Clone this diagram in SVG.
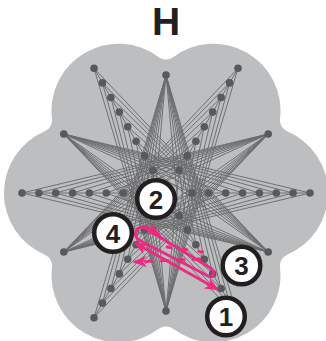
<svg xmlns="http://www.w3.org/2000/svg" width="326" height="341" viewBox="0 0 326 341">
<style>
.bg{fill:#bcbec0}
.e{fill:none;stroke:#6a6b6e;stroke-width:0.95;stroke-linejoin:round}
.n{fill:#58595b}
.lbl circle{fill:#fff;stroke:#231f20;stroke-width:4.5}
.lbl text,.title{font-family:"Liberation Sans",Arial,sans-serif;font-weight:bold;fill:#231f20;text-anchor:middle}
.lbl text{font-size:26px}
.pk{fill:none;stroke:#ec2a82;stroke-width:2.8;stroke-linecap:round;stroke-linejoin:round}
</style>
<defs>
<marker id="ah" viewBox="0 0 12 10" refX="10" refY="5" markerWidth="5" markerHeight="4.2" orient="auto-start-reverse" markerUnits="strokeWidth">
<path d="M0,0 L12,5 L0,10 L3.5,5 z" fill="#ec2a82"/>
</marker>
</defs>
<text class="title" x="166" y="35" font-size="39">H</text>
<path class="bg" d="M158.8,57.2 A12,12 0 0 0 173.2,57.2 A67,67 0 0 1 280,118.8 A12,12 0 0 0 287.2,131.3 A67,67 0 0 1 287.2,254.7 A12,12 0 0 0 280,267.2 A67,67 0 0 1 173.2,328.8 A12,12 0 0 0 158.8,328.8 A67,67 0 0 1 52,267.2 A12,12 0 0 0 44.8,254.7 A67,67 0 0 1 44.8,131.3 A12,12 0 0 0 52,118.8 A67,67 0 0 1 158.8,57.2 Z"/>
<g id="connectors">
<path class="e" d="M140,193 L22,193 M192,193 L310,193 M179,170.5 L238,68.3 M153,170.5 L94,68.3 M153,215.5 L94,317.7 M179,215.5 L238,317.7"/>
<path class="e" d="M153,215.5 L166,75 L144.6,230.1 M136.1,244.7 L166,75 L127.7,259.3 M119.3,273.9 L166,75 L110.9,288.5 M102.4,303.1 L166,75 L94,317.7 M179,215.5 L166,75 L187.4,230.1 M195.9,244.7 L166,75 L204.3,259.3 M212.7,273.9 L166,75 L221.1,288.5 M229.6,303.1 L166,75 L238,317.7"/>
<path class="e" d="M179,170.5 L166,311 L187.4,155.9 M195.9,141.3 L166,311 L204.3,126.7 M212.7,112.1 L166,311 L221.1,97.5 M229.6,82.9 L166,311 L238,68.3 M153,170.5 L166,311 L144.6,155.9 M136.1,141.3 L166,311 L127.7,126.7 M119.3,112.1 L166,311 L110.9,97.5 M102.4,82.9 L166,311 L94,68.3"/>
<path class="e" d="M179,215.5 L63.8,134 L187.4,230.1 M195.9,244.7 L63.8,134 L204.3,259.3 M212.7,273.9 L63.8,134 L221.1,288.5 M229.6,303.1 L63.8,134 L238,317.7 M192,193 L63.8,134 L208.9,193 M225.7,193 L63.8,134 L242.6,193 M259.4,193 L63.8,134 L276.3,193 M293.1,193 L63.8,134 L310,193"/>
<path class="e" d="M192,193 L63.8,252 L208.9,193 M225.7,193 L63.8,252 L242.6,193 M259.4,193 L63.8,252 L276.3,193 M293.1,193 L63.8,252 L310,193 M179,170.5 L63.8,252 L187.4,155.9 M195.9,141.3 L63.8,252 L204.3,126.7 M212.7,112.1 L63.8,252 L221.1,97.5 M229.6,82.9 L63.8,252 L238,68.3"/>
<path class="e" d="M140,193 L268.2,134 L123.1,193 M106.3,193 L268.2,134 L89.4,193 M72.6,193 L268.2,134 L55.7,193 M38.9,193 L268.2,134 L22,193 M153,215.5 L268.2,134 L144.6,230.1 M136.1,244.7 L268.2,134 L127.7,259.3 M119.3,273.9 L268.2,134 L110.9,288.5 M102.4,303.1 L268.2,134 L94,317.7"/>
<path class="e" d="M153,170.5 L268.2,252 L144.6,155.9 M136.1,141.3 L268.2,252 L127.7,126.7 M119.3,112.1 L268.2,252 L110.9,97.5 M102.4,82.9 L268.2,252 L94,68.3 M140,193 L268.2,252 L123.1,193 M106.3,193 L268.2,252 L89.4,193 M72.6,193 L268.2,252 L55.7,193 M38.9,193 L268.2,252 L22,193"/>
</g>
<g id="hub-t"><circle class="n" cx="166" cy="75" r="3.8"/></g>
<g id="hub-b"><circle class="n" cx="166" cy="311" r="3.8"/></g>
<g id="hub-r1"><circle class="n" cx="268.2" cy="134" r="3.8"/></g>
<g id="hub-r2"><circle class="n" cx="268.2" cy="252" r="3.8"/></g>
<g id="hub-l1"><circle class="n" cx="63.8" cy="134" r="3.8"/></g>
<g id="hub-l2"><circle class="n" cx="63.8" cy="252" r="3.8"/></g>
<g id="r0-1"><circle class="n" cx="192" cy="193" r="3.8"/></g>
<g id="r0-2"><circle class="n" cx="208.9" cy="193" r="3.8"/></g>
<g id="r0-3"><circle class="n" cx="225.7" cy="193" r="3.8"/></g>
<g id="r0-4"><circle class="n" cx="242.6" cy="193" r="3.8"/></g>
<g id="r0-5"><circle class="n" cx="259.4" cy="193" r="3.8"/></g>
<g id="r0-6"><circle class="n" cx="276.3" cy="193" r="3.8"/></g>
<g id="r0-7"><circle class="n" cx="293.1" cy="193" r="3.8"/></g>
<g id="r0-8"><circle class="n" cx="310" cy="193" r="3.8"/></g>
<g id="r180-1"><circle class="n" cx="140" cy="193" r="3.8"/></g>
<g id="r180-2"><circle class="n" cx="123.1" cy="193" r="3.8"/></g>
<g id="r180-3"><circle class="n" cx="106.3" cy="193" r="3.8"/></g>
<g id="r180-4"><circle class="n" cx="89.4" cy="193" r="3.8"/></g>
<g id="r180-5"><circle class="n" cx="72.6" cy="193" r="3.8"/></g>
<g id="r180-6"><circle class="n" cx="55.7" cy="193" r="3.8"/></g>
<g id="r180-7"><circle class="n" cx="38.9" cy="193" r="3.8"/></g>
<g id="r180-8"><circle class="n" cx="22" cy="193" r="3.8"/></g>
<g id="r60-1"><circle class="n" cx="179" cy="170.5" r="3.8"/></g>
<g id="r60-2"><circle class="n" cx="187.4" cy="155.9" r="3.8"/></g>
<g id="r60-3"><circle class="n" cx="195.9" cy="141.3" r="3.8"/></g>
<g id="r60-4"><circle class="n" cx="204.3" cy="126.7" r="3.8"/></g>
<g id="r60-5"><circle class="n" cx="212.7" cy="112.1" r="3.8"/></g>
<g id="r60-6"><circle class="n" cx="221.1" cy="97.5" r="3.8"/></g>
<g id="r60-7"><circle class="n" cx="229.6" cy="82.9" r="3.8"/></g>
<g id="r60-8"><circle class="n" cx="238" cy="68.3" r="3.8"/></g>
<g id="r120-1"><circle class="n" cx="153" cy="170.5" r="3.8"/></g>
<g id="r120-2"><circle class="n" cx="144.6" cy="155.9" r="3.8"/></g>
<g id="r120-3"><circle class="n" cx="136.1" cy="141.3" r="3.8"/></g>
<g id="r120-4"><circle class="n" cx="127.7" cy="126.7" r="3.8"/></g>
<g id="r120-5"><circle class="n" cx="119.3" cy="112.1" r="3.8"/></g>
<g id="r120-6"><circle class="n" cx="110.9" cy="97.5" r="3.8"/></g>
<g id="r120-7"><circle class="n" cx="102.4" cy="82.9" r="3.8"/></g>
<g id="r120-8"><circle class="n" cx="94" cy="68.3" r="3.8"/></g>
<g id="r240-1"><circle class="n" cx="153" cy="215.5" r="3.8"/></g>
<g id="r240-2"><circle class="n" cx="144.6" cy="230.1" r="3.8"/></g>
<g id="r240-3"><circle class="n" cx="136.1" cy="244.7" r="3.8"/></g>
<g id="r240-4"><circle class="n" cx="127.7" cy="259.3" r="3.8"/></g>
<g id="r240-5"><circle class="n" cx="119.3" cy="273.9" r="3.8"/></g>
<g id="r240-6"><circle class="n" cx="110.9" cy="288.5" r="3.8"/></g>
<g id="r240-7"><circle class="n" cx="102.4" cy="303.1" r="3.8"/></g>
<g id="r240-8"><circle class="n" cx="94" cy="317.7" r="3.8"/></g>
<g id="r300-1"><circle class="n" cx="179" cy="215.5" r="3.8"/></g>
<g id="r300-2"><circle class="n" cx="187.4" cy="230.1" r="3.8"/></g>
<g id="r300-3"><circle class="n" cx="195.9" cy="244.7" r="3.8"/></g>
<g id="r300-4"><circle class="n" cx="204.3" cy="259.3" r="3.8"/></g>
<g id="r300-5"><circle class="n" cx="212.7" cy="273.9" r="3.8"/></g>
<g id="r300-6"><circle class="n" cx="221.1" cy="288.5" r="3.8"/></g>
<g id="r300-7"><circle class="n" cx="229.6" cy="303.1" r="3.8"/></g>
<g id="r300-8"><circle class="n" cx="238" cy="317.7" r="3.8"/></g>
<g id="walk">
<path class="pk" d="M145,228 L212,269 A4.5,4.5 0 0 1 210,277 L139,240 A6,6 0 0 1 145,228"/>
<path class="pk" d="M146,227 L159,234.5" marker-end="url(#ah)"/>
<path class="pk" d="M136,243.5 L217,289" marker-start="url(#ah)" marker-end="url(#ah)"/>
<path class="pk" d="M200,259 L135,262" stroke-dasharray="7 9" marker-end="url(#ah)"/>
<path class="pk" d="M167,247 L203,252" stroke-dasharray="4 12"/>
</g>
<g id="label-2" class="lbl"><circle cx="156" cy="199" r="18.8"/><text x="156" y="208.5">2</text></g>
<g id="label-4" class="lbl"><circle cx="113" cy="233" r="18.8"/><text x="113" y="242.5">4</text></g>
<g id="label-3" class="lbl"><circle cx="241.5" cy="265.5" r="18.8"/><text x="241.5" y="275">3</text></g>
<g id="label-1" class="lbl"><circle cx="226" cy="316.5" r="18.8"/><text x="226" y="326">1</text></g>
</svg>
